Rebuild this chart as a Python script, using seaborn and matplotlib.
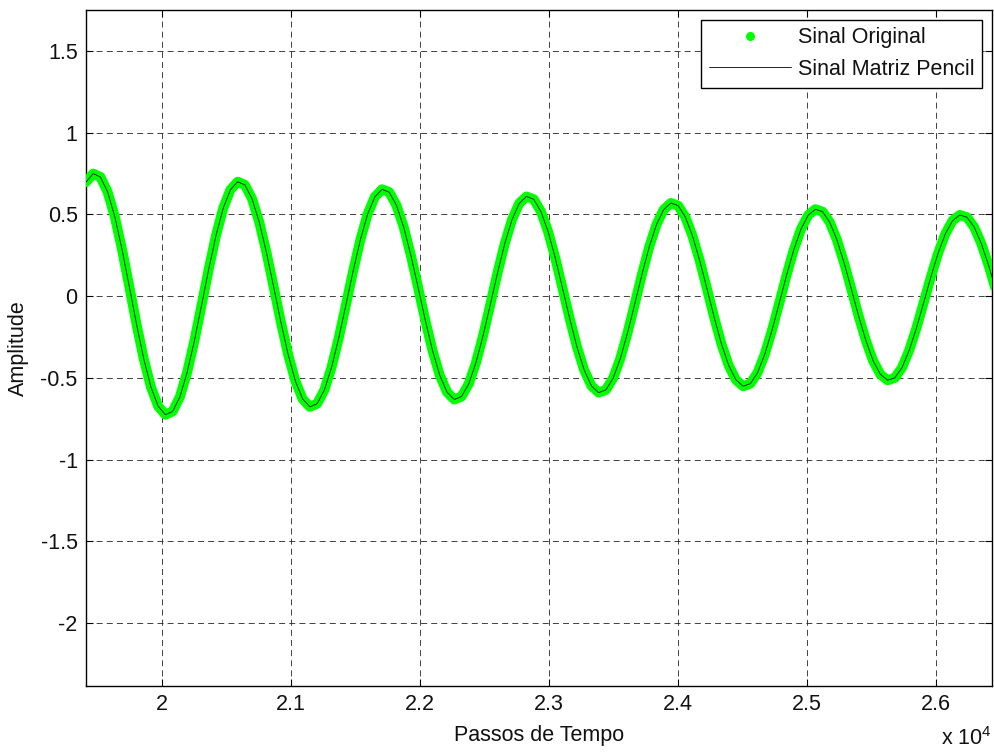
import numpy as np
import pandas as pd
import matplotlib
matplotlib.use("Agg")
import matplotlib.pyplot as plt
from matplotlib.lines import Line2D
from matplotlib.ticker import FuncFormatter, MultipleLocator
import seaborn as sns

# Time steps of the sampled response
passos = 19408 + 56 * np.arange(127)

# Original signal samples
sinal_original = [
    0.698, 0.750, 0.729, 0.637, 0.484, 0.284, 0.058, -0.172, -0.384, -0.557,
    -0.674, -0.725, -0.705, -0.616, -0.467, -0.275, -0.056, 0.166, 0.371, 0.538,
    0.651, 0.700, 0.681, 0.595, 0.452, 0.265, 0.054, -0.161, -0.358, -0.520,
    -0.629, -0.677, -0.658, -0.575, -0.436, -0.256, -0.052, 0.155, 0.346, 0.502,
    0.608, 0.654, 0.636, 0.555, 0.422, 0.248, 0.051, -0.150, -0.335, -0.485,
    -0.587, -0.632, -0.614, -0.537, -0.407, -0.239, -0.049, 0.145, 0.323, 0.469,
    0.568, 0.610, 0.593, 0.518, 0.394, 0.231, 0.047, -0.140, -0.312, -0.453,
    -0.549, -0.590, -0.573, -0.501, -0.380, -0.223, -0.046, 0.135, 0.302, 0.438,
    0.530, 0.570, 0.554, 0.484, 0.367, 0.216, 0.044, -0.131, -0.292, -0.423,
    -0.512, -0.551, -0.535, -0.468, -0.355, -0.208, -0.043, 0.126, 0.282, 0.409,
    0.495, 0.532, 0.517, 0.452, 0.343, 0.201, 0.041, -0.122, -0.272, -0.395,
    -0.478, -0.514, -0.500, -0.437, -0.331, -0.195, -0.040, 0.118, 0.263, 0.381,
    0.462, 0.497, 0.483, 0.422, 0.320, 0.188, 0.038,
]

# Matrix Pencil reconstruction (coincides with the original samples)
sinal_pencil = list(sinal_original)

rotulos = ["Sinal Original", "Sinal Matriz Pencil"]

sns.set_theme(style="white")
plt.rcParams["font.family"] = ["Liberation Sans", "DejaVu Sans"]
plt.rcParams["mathtext.default"] = "regular"
plt.rcParams["axes.unicode_minus"] = False
plt.rcParams["lines.scale_dashes"] = False

FS = 15.5

df = pd.DataFrame({"passo": passos, "original": sinal_original, "pencil": sinal_pencil})

W, H = 995, 754
fig = plt.figure(figsize=(W / 100, H / 100), dpi=100)
ax = fig.add_axes([86 / W, 1 - 686 / H, (992 - 86) / W, (686 - 10) / H])

sns.lineplot(data=df, x="passo", y="original", ax=ax, color="#00ff00", linewidth=7.2,
             solid_capstyle="round", solid_joinstyle="round", sort=False,
             legend=False, zorder=3)
sns.lineplot(data=df, x="passo", y="pencil", ax=ax, color="black", linewidth=0.55,
             sort=False, legend=False, zorder=4)

ax.set_xlim(19408, 26434)
ax.set_ylim(-2.385, 1.751)

ax.xaxis.set_major_locator(MultipleLocator(1000))
ax.yaxis.set_major_locator(MultipleLocator(0.5))
ax.xaxis.set_major_formatter(FuncFormatter(lambda v, p: "%g" % round(v / 1e4, 4)))
ax.yaxis.set_major_formatter(FuncFormatter(lambda v, p: "%g" % round(v, 4)))

ax.set_axisbelow(True)
ax.grid(True, color="#222222", linestyle=(0, (4.3, 3.0)), linewidth=0.6)

for s in ax.spines.values():
    s.set_visible(True)
    s.set_color("black")
    s.set_linewidth(1.0)

ax.tick_params(direction="in", length=5, width=0.8, colors="black",
               bottom=True, top=True, left=True, right=True,
               labelsize=FS, pad=6)
for lab in ax.get_xticklabels() + ax.get_yticklabels():
    lab.set_color("#111111")

ax.set_xlabel("Passos de Tempo", fontsize=FS, color="#111111")
ax.set_ylabel("Amplitude", fontsize=FS, color="#111111")
ax.xaxis.set_label_coords(0.5, -(736 - 686) / 676)
ax.xaxis.label.set_va("center")
ax.yaxis.set_label_coords((18 - 86) / 906, 0.5)
ax.yaxis.label.set_va("center")

fig.text(992 / W, 1 - 739 / H, r"x 10$^{4}$", ha="right", va="center",
         fontsize=FS, color="#111111")

handles = [
    Line2D([], [], color="#00ff00", marker="o", linestyle="none", markersize=5.5),
    Line2D([], [], color="black", linewidth=0.6),
]
leg = ax.legend(handles, rotulos, loc="upper right", fontsize=FS,
                frameon=True, fancybox=False, framealpha=1,
                edgecolor="black", borderaxespad=0.45, borderpad=0.35,
                handlelength=3.8, handletextpad=0.35, labelspacing=0.5)
leg.get_frame().set_linewidth(1.0)
for t in leg.get_texts():
    t.set_color("#111111")

fig.savefig("out.png", dpi=100)
